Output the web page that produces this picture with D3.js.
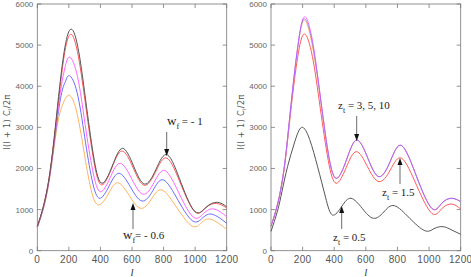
<!DOCTYPE html>
<html>
<head>
<meta charset="utf-8">
<script src="https://cdn.jsdelivr.net/npm/d3@7"></script>
<style>
body { margin: 0; background: #fff; }
svg { display: block; }
</style>
</head>
<body>
<div id="chart-area"></div>
<script>
let width = 471,
    height = 277;

// left panel: w_f from -1 (top) down to -0.6 (bottom)   [l, l(l+1)C_l/2pi]
let wfBlack = [[0,590],[40,1100],[80,1900],[114,3000],[142,4000],[175,4950],[215,5390],[262,4850],[312,3500],[361,2200],[410,1640],[475,2060],[540,2490],[610,2060],[680,1620],[752,1980],[825,2330],[912,1640],[1000,950],[1070,1060],[1140,1177],[1200,1070]];
let wfRed = [[0,590],[40,1100],[80,1900],[115,3000],[145,4000],[175,4850],[213,5264],[260,4730],[310,3430],[359,2160],[408,1600],[472,2010],[537,2425],[608,2010],[678,1590],[750,1920],[822,2250],[911,1600],[1000,940],[1068,1045],[1135,1150],[1200,1040]];
let wfMagenta = [[0,580],[40,1080],[80,1880],[117,3000],[150,3950],[178,4500],[207,4705],[255,4230],[303,3070],[351,1950],[400,1435],[462,1780],[525,2126],[598,1750],[670,1372],[740,1660],[810,1946],[900,1380],[990,812],[1055,910],[1120,1014],[1200,827]];
let wfBlue = [[0,570],[40,1060],[80,1850],[120,3000],[155,3850],[180,4130],[204,4257],[252,3850],[300,2770],[347,1720],[395,1275],[456,1580],[518,1883],[590,1550],[663,1209],[732,1460],[800,1720],[893,1220],[985,722],[1048,800],[1110,885],[1200,667]];
let wfOrange = [[0,560],[40,1040],[80,1800],[125,3000],[160,3550],[200,3780],[247,3420],[294,2450],[341,1480],[389,1112],[450,1380],[510,1654],[583,1340],[655,1031],[722,1250],[790,1477],[885,1040],[980,601],[1040,680],[1100,764],[1200,520]];

// right panel: z_t = 0.5, 1.5 and 3, 5, 10
let zt05 = [[0,470],[40,950],[70,1450],[105,2050],[148,2620],[194,3000],[245,2700],[295,2040],[345,1300],[389,868],[448,1080],[506,1275],[577,1030],[647,788],[713,940],[780,1095],[877,790],[973,487],[1031,535],[1089,584],[1145,500],[1200,399]];
let zt15 = [[0,590],[40,1100],[80,1900],[114,3000],[145,4050],[175,4850],[212,5271],[262,4720],[312,3460],[362,2200],[412,1640],[476,2025],[540,2409],[610,2045],[683,1680],[755,1965],[827,2247],[922,1580],[1017,910],[1080,1020],[1143,1135],[1200,1015]];
let zt3 = [[0,600],[40,1110],[80,1920],[112,3000],[142,4100],[175,5100],[212,5610],[262,4980],[313,3690],[364,2330],[415,1760],[479,2226],[543,2693],[613,2246],[683,1800],[755,2178],[827,2555],[922,1792],[1017,1030],[1080,1152],[1143,1275],[1200,1192]];
let zt5 = [[0,600],[40,1110],[80,1920],[112,3000],[142,4100],[175,5120],[212,5690],[262,5110],[313,3725],[364,2330],[415,1760],[479,2226],[543,2693],[613,2246],[683,1800],[755,2178],[827,2555],[922,1792],[1017,1030],[1080,1152],[1143,1275],[1200,1192]];
let zt10 = [[0,600],[40,1110],[80,1920],[112,3000],[142,4100],[175,5110],[212,5640],[262,5050],[313,3710],[364,2330],[415,1760],[479,2226],[543,2693],[613,2246],[683,1800],[755,2178],[827,2555],[922,1792],[1017,1030],[1080,1152],[1143,1275],[1200,1192]];

let xTicks = [0, 200, 400, 600, 800, 1000, 1200];
let yTicks = [0, 1000, 2000, 3000, 4000, 5000, 6000];

let panels = [
    {x0: 37.3, x1: 226.7,
     series: [[wfOrange, "#ffb45a"], [wfBlue, "#6b6bff"], [wfMagenta, "#ff66ff"], [wfRed, "#ff5a5a"], [wfBlack, "#555"]],
     notes: [
        {main: "w", sub: "f", rest: " = - 1", tx: 167, ty: 125, ax: 166.7, a0: 132, a1: 156},
        {main: "w", sub: "f", rest: "= - 0.6", tx: 123, ty: 239, ax: 133, a0: 229, a1: 203}
     ]},
    {x0: 271, x1: 460.7,
     series: [[zt05, "#555"], [zt15, "#ff5a5a"], [zt3, "#ffb45a"], [zt5, "#ff66ff"], [zt10, "#6b6bff"]],
     notes: [
        {main: "z", sub: "t", rest: " = 3, 5, 10", tx: 338, ty: 109, ax: 356.7, a0: 116, a1: 141},
        {main: "z", sub: "t", rest: " = 1.5", tx: 382, ty: 196, ax: 400, a0: 184, a1: 158},
        {main: "z", sub: "t", rest: " = 0.5", tx: 333, ty: 241, ax: 341.7, a0: 229, a1: 206}
     ]}
];

let svg = d3.select("#chart-area")
    .append("svg")
    .attr("width", width)
    .attr("height", height);

let y = d3.scaleLinear().domain([0, 6000]).range([250.7, 4]);

panels.forEach(function(p){
    let x = d3.scaleLinear().domain([0, 1200]).range([p.x0, p.x1]);
    let g = svg.append("g");

    //frame
    g.append("rect")
        .attr("x", x(0)).attr("y", y(6000))
        .attr("width", x(1200) - x(0)).attr("height", y(0) - y(6000))
        .attr("fill", "none").attr("stroke", "#777").attr("stroke-width", 0.8);

    //inner ticks on all four sides
    xTicks.forEach(function(t){
        g.append("line").attr("x1", x(t)).attr("x2", x(t)).attr("y1", y(0)).attr("y2", y(0) - 4)
            .attr("stroke", "#777").attr("stroke-width", 0.8);
        g.append("line").attr("x1", x(t)).attr("x2", x(t)).attr("y1", y(6000)).attr("y2", y(6000) + 4)
            .attr("stroke", "#777").attr("stroke-width", 0.8);
        g.append("text").attr("x", x(t)).attr("y", 263)
            .attr("text-anchor", "middle")
            .style("font", "10px 'Liberation Sans', sans-serif")
            .style("letter-spacing", "0.3px")
            .attr("fill", "#555").text(t);
    });
    yTicks.forEach(function(t){
        g.append("line").attr("x1", x(0)).attr("x2", x(0) + 4).attr("y1", y(t)).attr("y2", y(t))
            .attr("stroke", "#777").attr("stroke-width", 0.8);
        g.append("line").attr("x1", x(1200)).attr("x2", x(1200) - 4).attr("y1", y(t)).attr("y2", y(t))
            .attr("stroke", "#777").attr("stroke-width", 0.8);
        g.append("text").attr("x", x(0) - 4).attr("y", y(t) + 3)
            .attr("text-anchor", "end")
            .style("font", "8px 'Liberation Sans', sans-serif")
            .attr("fill", "#666").text(t);
    });

    //axis titles
    g.append("text").attr("x", (x(0) + x(1200)) / 2).attr("y", 276)
        .attr("text-anchor", "middle")
        .style("font", "italic 11px 'Liberation Serif', serif")
        .attr("fill", "#333").text("l");
    let yl = g.append("text")
        .attr("transform", "translate(" + (x(0) - 27) + ",122) rotate(-90)")
        .attr("text-anchor", "middle")
        .style("font", "8px 'DejaVu Sans', sans-serif")
        .style("letter-spacing", "0.4px")
        .attr("fill", "#555");
    yl.append("tspan").text("l(l + 1)  C");
    yl.append("tspan").attr("dy", 2).style("font-size", "5px").text("l");
    yl.append("tspan").attr("dy", -2).text("/2\u03c0");

    //curves
    let line = d3.line()
        .x(function(d){ return x(d[0]); })
        .y(function(d){ return y(d[1]); })
        .curve(d3.curveNatural);
    p.series.forEach(function(s, i){
        g.append("path")
            .attr("d", line(s[0]))
            .attr("fill", "none")
            .attr("stroke", s[1])
            .attr("stroke-width", 1)
            .attr("opacity", (p.x0 > 200 && i == 4) ? 0.6 : 1);
    });

    //annotations with arrows
    p.notes.forEach(function(n){
        let t = g.append("text").attr("x", n.tx).attr("y", n.ty)
            .style("font", "11px 'Liberation Serif', serif").attr("fill", "#222");
        t.append("tspan").style("font-size", n.main == "w" ? "13px" : "11px").text(n.main);
        t.append("tspan").attr("dy", 4).style("font-size", "8px").text(n.sub);
        t.append("tspan").attr("dy", -4).text(n.rest);
        let dir = n.a1 > n.a0 ? 1 : -1;
        g.append("line").attr("x1", n.ax).attr("x2", n.ax).attr("y1", n.a0).attr("y2", n.a1 - dir * 6)
            .attr("stroke", "#444").attr("stroke-width", 0.8);
        g.append("path")
            .attr("d", "M" + (n.ax - 2.5) + "," + (n.a1 - dir * 7) + "L" + (n.ax + 2.5) + "," + (n.a1 - dir * 7) + "L" + n.ax + "," + n.a1 + "Z")
            .attr("fill", "#111");
    });
});
</script>
</body>
</html>
